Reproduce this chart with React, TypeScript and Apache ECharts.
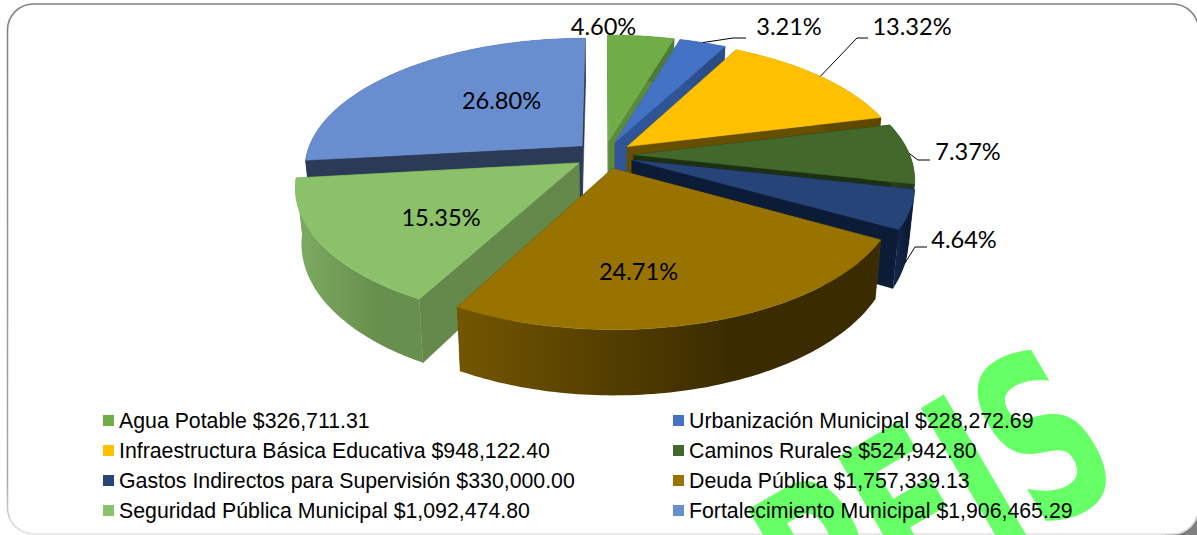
import React, { useEffect, useRef } from "react";
import * as echarts from "echarts";

const names = [
  "Agua Potable",
  "Urbanización Municipal",
  "Infraestructura Básica Educativa",
  "Caminos Rurales",
  "Gastos Indirectos para Supervisión",
  "Deuda Pública",
  "Seguridad Pública Municipal",
  "Fortalecimiento Municipal",
];
const amounts = [326711.31, 228272.69, 948122.4, 524942.8, 330000.0, 1757339.13, 1092474.8, 1906465.29];
const percentLabels = ["4.60%", "3.21%", "13.32%", "7.37%", "4.64%", "24.71%", "15.35%", "26.80%"];

const topColors = ["#70AD47", "#4472C4", "#FFC000", "#43682B", "#264478", "#997300", "#8BC168", "#698ED0"];
const radialWallColors = ["#5A8A3A", "#2F5597", "#674F00", "#1D3012", "#0D1C36", "#5A4400", "#64894A", "#2A3A57"];
const arcWallColors = [
  ["#5A8A3A", "#4F7A33"],
  ["#2F5597", "#2A4C87"],
  ["#7F6000", "#5F4800"],
  ["#2C451C", "#24391A"],
  ["#14294E", "#0D1C36"],
  ["#735600", "#3A2B00"],
  ["#7EAB61", "#678F4D"],
  ["#2A3A57", "#2A3A57"],
];
const drawOrder = [7, 0, 1, 2, 3, 4, 6, 5];

// label centres and leader-line elbows, in page pixels
const labelCentres = [
  [603.5, 26], [789, 26], [912, 26], [968, 151], [964, 239], [638.5, 271], [441, 217], [501.5, 100],
];
const leaderElbows: (number[][] | null)[] = [
  null,
  [[733, 38], [746, 38]],
  [[857, 38], [868, 38]],
  [[918, 160], [930, 160]],
  [[915, 247], [927, 247]],
  null, null, null,
];
const leaderDepth = [0, 0, 0, 0, 0.95, 0, 0, 0];

// projection of the tilted pie
const CX = 604, CY = 155, RX = 276, RY = 128.7, PERSP = 0.169, DEPTH = 53.5, SHRINK = 0.02, EXPLODE = 0.108;

const total = amounts.reduce((a, b) => a + b, 0);
const fmt = (v: number) => "$" + v.toLocaleString("en-US", { minimumFractionDigits: 2, maximumFractionDigits: 2 });
const legendName = (i: number) => `${names[i]} ${fmt(amounts[i])}`;

function project(wx: number, wy: number, z: number): number[] {
  const s = 1 / (1 + PERSP * wy);
  return [CX + RX * wx * s * (1 - SHRINK * z), CY - RY * wy * s + DEPTH * z * s];
}

function sliceGeometry(i: number, value: number) {
  const before = amounts.slice(0, i).reduce((a, b) => a + b, 0);
  const a0 = (before / total) * Math.PI * 2;
  const a1 = ((before + value) / total) * Math.PI * 2;
  const mid = (a0 + a1) / 2;
  const ox = EXPLODE * Math.sin(mid);
  const oy = EXPLODE * Math.cos(mid);
  const rim = (t: number, z: number) => project(ox + Math.sin(t), oy + Math.cos(t), z);
  const apex = (z: number) => project(ox, oy, z);
  const steps = Math.max(6, Math.ceil(((a1 - a0) * 180) / Math.PI));
  const arc = (z: number) => {
    const p: number[][] = [];
    for (let k = 0; k <= steps; k++) p.push(rim(a0 + ((a1 - a0) * k) / steps, z));
    return p;
  };
  return { a0, a1, mid, ox, oy, rim, apex, arc };
}

function makeRender(i: number) {
  return (_params: any, api: any) => {
    const g = sliceGeometry(i, api.value(0));
    const children: any[] = [];
    const wall = (t: number) => ({
      type: "polygon",
      z2: 1,
      shape: { points: [g.apex(0), g.rim(t, 0), g.rim(t, 1), g.apex(1)] },
      style: { fill: radialWallColors[i], stroke: radialWallColors[i], lineWidth: 0.5 },
    });
    children.push(wall(g.a0), wall(g.a1));
    children.push({
      type: "polygon",
      z2: 1,
      shape: { points: [...g.arc(0), ...g.arc(1).reverse()] },
      style: {
        fill: new echarts.graphic.LinearGradient(0, 0, 1, 0, [
          { offset: 0, color: arcWallColors[i][0] },
          { offset: 0.65, color: arcWallColors[i][1] },
          { offset: 1, color: arcWallColors[i][1] },
        ]),
      },
    });
    children.push({
      type: "polygon",
      z2: 2,
      shape: { points: [g.apex(0), ...g.arc(0)] },
      style: { fill: topColors[i], stroke: topColors[i], lineWidth: 0.5 },
    });
    const elbow = leaderElbows[i];
    if (elbow) {
      const start = g.rim(g.mid, leaderDepth[i]);
      children.push({
        type: "polyline",
        z2: 50,
        shape: { points: [start, ...elbow] },
        style: { stroke: "#000", lineWidth: 1, fill: null },
      });
    }
    children.push({
      type: "text",
      z2: 60,
      style: {
        text: percentLabels[i],
        x: labelCentres[i][0],
        y: labelCentres[i][1],
        fill: "#000",
        font: '23.6px Lato, "Noto Sans", sans-serif',
        align: "center",
        verticalAlign: "middle",
      },
    });
    return { type: "group", children };
  };
}

export default function App() {
  const ref = useRef<HTMLDivElement>(null);
  useEffect(() => {
    const chart = echarts.init(ref.current!, null, { renderer: "svg" });
    const legendBase = {
      orient: "vertical" as const,
      top: 410,
      padding: 0,
      icon: "rect",
      itemWidth: 11,
      itemHeight: 11,
      itemGap: 9,
      selectedMode: false,
      textStyle: { fontFamily: '"Liberation Sans", Arial, sans-serif', fontSize: 21.3, color: "#000", lineHeight: 20 },
    };
    chart.setOption({
      animation: false,
      backgroundColor: "#fff",
      graphic: [
        {
          type: "rect",
          z: 0,
          x: 1165,
          y: 505,
          shape: { width: 32, height: 30 },
          style: { fill: "#808080" },
          silent: true,
        },
        {
          type: "rect",
          z: 0,
          x: 7.5,
          y: 4,
          shape: { width: 1191, height: 530, r: 26 },
          style: {
            fill: "#fff",
            lineWidth: 1.5,
            stroke: new echarts.graphic.LinearGradient(0, 0, 0, 1, [
              { offset: 0, color: "#808080" },
              { offset: 0.9, color: "#a6a6a6" },
              { offset: 1, color: "#e2e2e2" },
            ]),
          },
          silent: true,
        },
        {
          type: "text",
          z: 1,
          x: 1088,
          y: 413,
          rotation: (30.4 * Math.PI) / 180,
          scaleX: 0.61,
          style: {
            text: "OPFIS",
            font: 'bold 232px "DejaVu Sans"',
            fill: "#66FF66",
            align: "right",
            verticalAlign: "middle",
          },
          silent: true,
        },
      ],
      legend: [
        { ...legendBase, left: 103, data: [0, 2, 4, 6].map(legendName) },
        { ...legendBase, left: 673, data: [1, 3, 5, 7].map(legendName) },
      ],
      series: drawOrder.map((i) => ({
        type: "custom",
        name: legendName(i),
        coordinateSystem: "none",
        silent: true,
        itemStyle: { color: topColors[i] },
        data: [[amounts[i]]],
        renderItem: makeRender(i),
      })),
    });
    return () => chart.dispose();
  }, []);
  return <div ref={ref} style={{ position: "absolute", left: 0, top: 0, width: 1197, height: 535 }} />;
}
